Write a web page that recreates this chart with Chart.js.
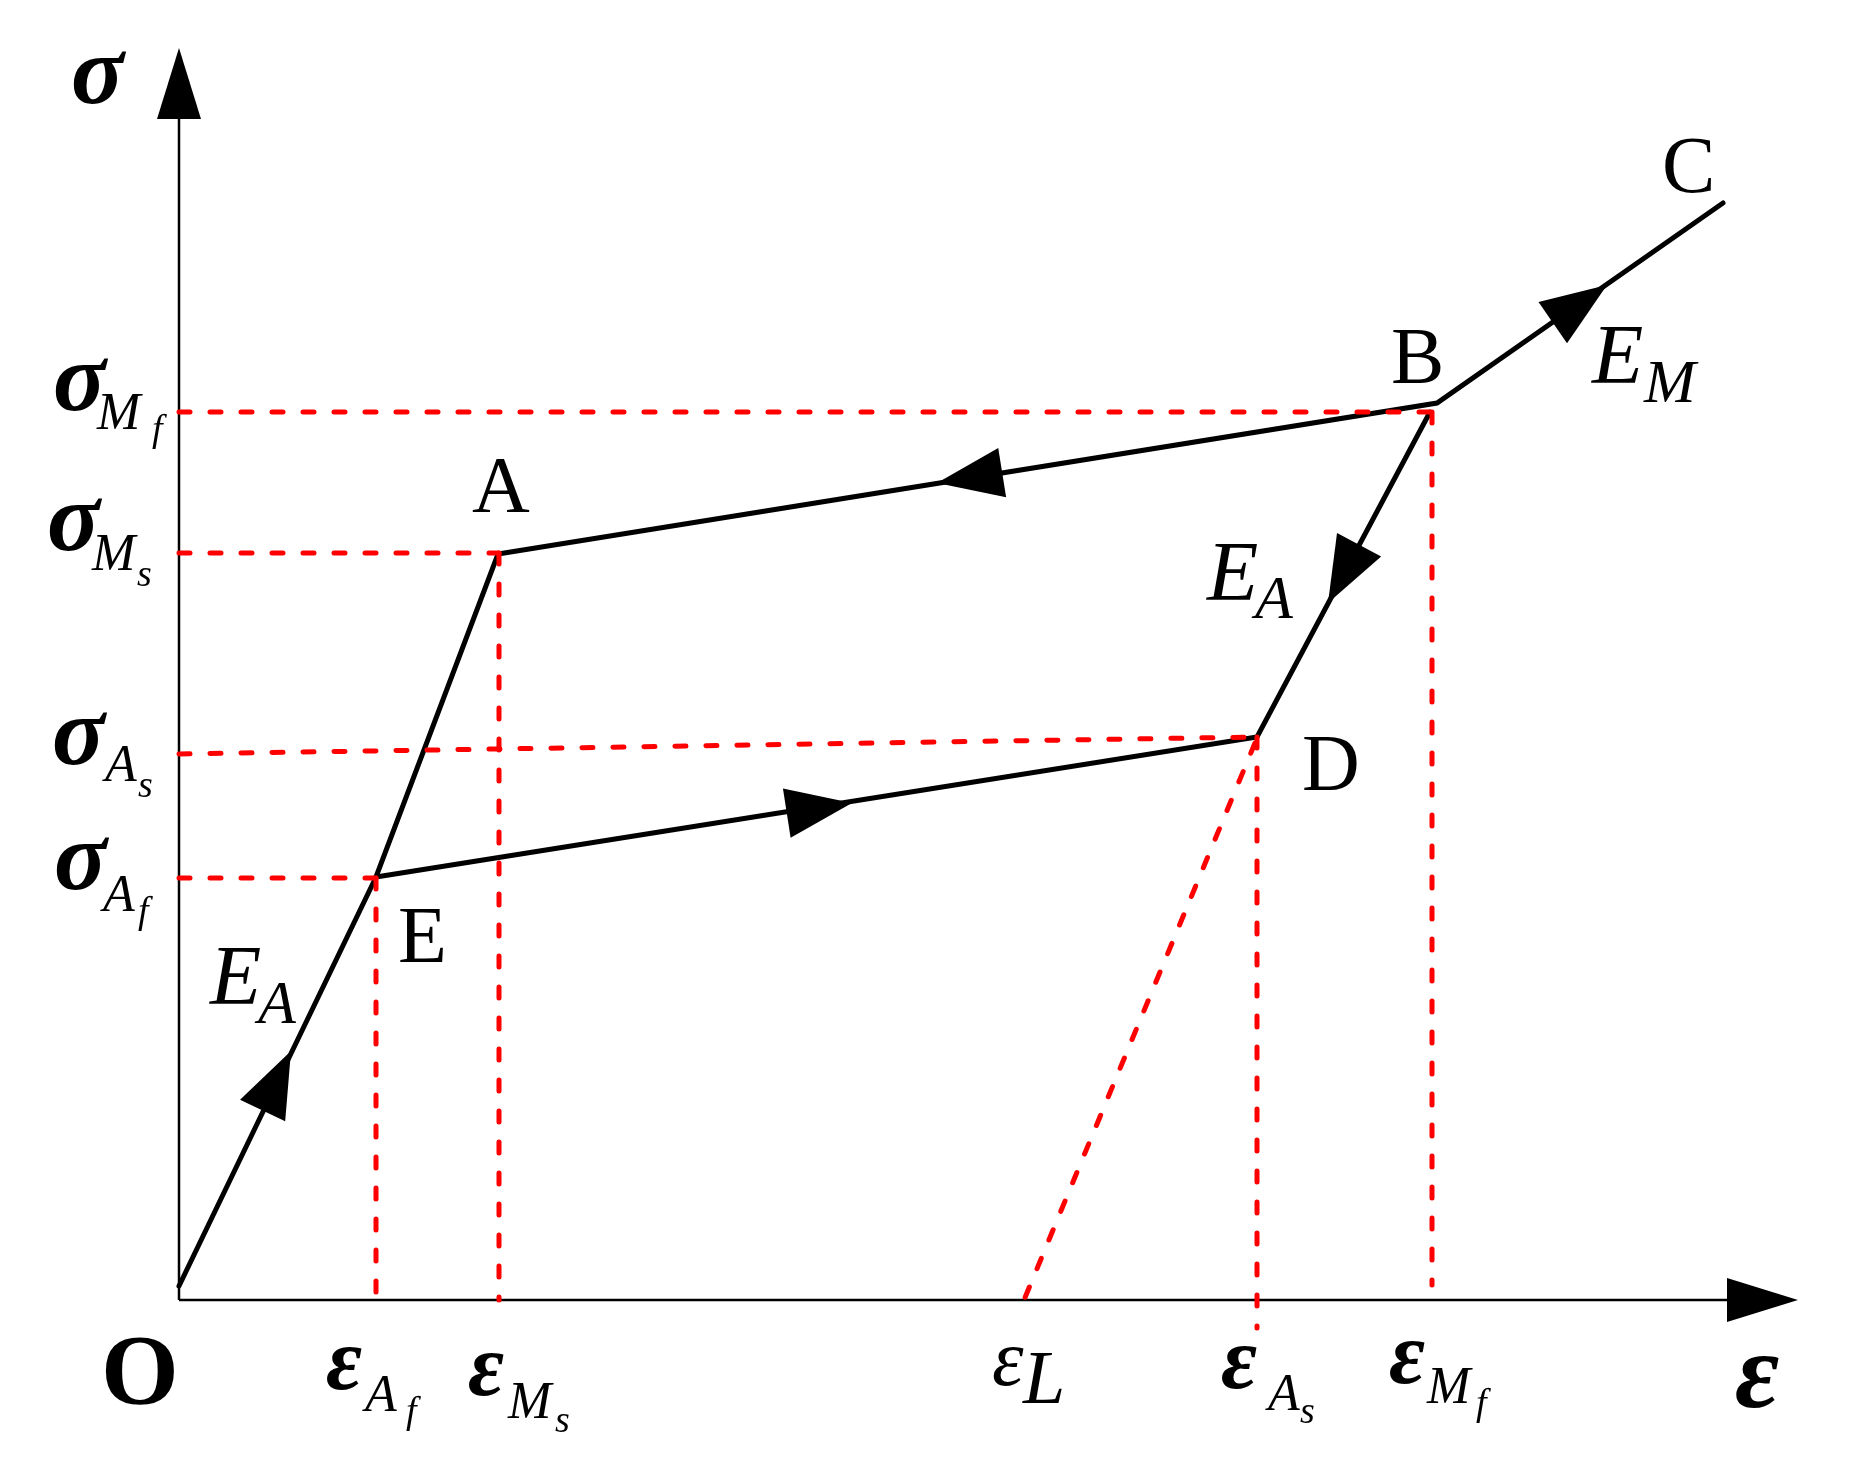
<!DOCTYPE html>
<html><head><meta charset="utf-8">
<script src="https://cdn.jsdelivr.net/npm/chart.js@4/dist/chart.umd.min.js"></script>
<style>html,body{margin:0;padding:0;background:#fff;overflow:hidden}</style>
</head><body>
<canvas id="c" width="1851" height="1462"></canvas>
<script>
// Schematic SMA stress–strain loop (arbitrary units: strain ε on x, stress σ on y)
// Main path O → E → A → B → C
const mainStrain = [0, 19.7, 31.9, 125.8, 154.4];
const mainStress = [1.4, 42.3, 74.6, 89.7, 109.7];
// Unloading path B → D → E
const unloadStrain = [125.1, 107.8, 19.7];
const unloadStress = [88.8, 56.3, 42.3];
// Characteristic stress levels
const sigmaMf = 88.8, sigmaMs = 74.7, sigmaAsLeft = 54.6, sigmaAsRight = 56.3, sigmaAf = 42.2;
// Characteristic strains
const epsAf = 19.7, epsMs = 32.0, epsL = 84.5, epsAs = 107.8, epsMf = 125.3;
// Axis extents
const strainMax = 161.9, stressMax = 125.2;
// Direction arrows: tip point and a point behind it on the same segment
const arrowTipX = [11.2, 75.8, 142.8, 114.9, 67.3];
const arrowTipY = [24.9, 81.7, 101.5, 69.7, 49.7];
const arrowFromX = [0, 125.8, 125.8, 125.1, 19.7];
const arrowFromY = [1.4, 89.7, 89.7, 88.8, 42.3];

function seg(x1,y1,x2,y2){return [{x:x1,y:y1},{x:x2,y:y2}];}
const red = '#ff0000';
const dashStyle = {borderColor:red,borderWidth:5,borderDash:[11,20],borderCapStyle:'round',showLine:true,pointRadius:0,clip:false,order:0,fill:false};
const dashed = [
  seg(0,sigmaMf,epsMf,sigmaMf),
  seg(0,sigmaMs,epsMs,sigmaMs),
  seg(0,sigmaAsLeft,epsAs,sigmaAsRight),
  seg(0,sigmaAf,epsAf,sigmaAf),
  seg(epsAf,sigmaAf,epsAf,0),
  seg(epsMs,sigmaMs,epsMs,0),
  seg(epsAs,sigmaAsRight,epsAs,-2.8),
  seg(epsMf,sigmaMf,epsMf,1.5),
  seg(epsAs-0.2,sigmaAsRight-0.6,epsL,0)
].map(d=>Object.assign({data:d},dashStyle));

const blackStyle = {borderColor:'#000',borderWidth:5,showLine:true,pointRadius:0,clip:false,order:1,fill:false,borderJoinStyle:'miter',borderCapStyle:'round'};
const mainData = mainStrain.map((x,i)=>({x, y:mainStress[i]}));
const unloadData = unloadStrain.map((x,i)=>({x, y:unloadStress[i]}));
const axisStyle = {borderColor:'#000',borderWidth:2.5,showLine:true,pointRadius:0,clip:false,order:2,fill:false,borderCapStyle:'butt'};

// Label layout (axis units): [text parts] each {t, font, x, y}
const F = '"Liberation Serif", "Times New Roman", serif';
const sig = 'italic bold 98px '+F, epsF = 'italic bold 88px '+F, sub1 = 'italic 52px '+F, sub2 = 'italic 38px '+F;
const letter = '80px '+F, eF = 'italic 84px '+F, eSub = 'italic 62px '+F;
const labels = [
  [['σ',sig,-10.8,119.7]],
  [['σ',sig,-12.6,89.0],['M',sub1,-8.2,87.1],['f',sub2,-2.7,85.9]],
  [['σ',sig,-13.2,75.0],['M',sub1,-8.7,73.0],['s',sub2,-4.2,71.4]],
  [['σ',sig,-12.7,53.6],['A',sub1,-7.4,51.9],['s',sub2,-4.1,50.3]],
  [['σ',sig,-12.5,41.1],['A',sub1,-7.6,38.9],['f',sub2,-4.1,37.7]],
  [['O','bold 100px '+F,-7.8,-10.3]],
  [['ε',epsF,14.7,-8.9],['A',sub1,18.6,-11.1],['f',sub2,22.7,-12.3]],
  [['ε',epsF,28.9,-9.5],['M',sub1,32.9,-11.8],['s',sub2,37.6,-13.2]],
  [['ε','italic 80px '+F,81.3,-8.5],['L','italic 76px '+F,84.4,-10.3]],
  [['ε',epsF,104.2,-8.8],['A',sub1,108.9,-11.0],['s',sub2,112.1,-12.3]],
  [['ε',epsF,121.0,-8.3],['M',sub1,124.8,-10.3],['f',sub2,129.7,-11.5]],
  [['ε','italic bold 108px '+F,155.6,-10.7]],
  [['A',letter,29.3,78.8]],
  [['B',letter,121.2,91.7]],
  [['C',letter,148.3,110.8]],
  [['D',letter,112.3,51.0]],
  [['E',letter,21.9,33.8]],
  [['E',eF,3.1,29.6],['A',eSub,7.9,27.7]],
  [['E',eF,102.8,70.0],['A',eSub,107.6,68.2]],
  [['E',eF,141.3,91.7],['M',eSub,146.5,89.8]]
];

function tri(ctx, tx, ty, fx, fy, len, wid){
  const dx = tx-fx, dy = ty-fy, L = Math.hypot(dx,dy), ux = dx/L, uy = dy/L;
  const bx = tx-ux*len, by = ty-uy*len, px = -uy, py = ux;
  ctx.beginPath();
  ctx.moveTo(tx,ty);
  ctx.lineTo(bx+px*wid/2, by+py*wid/2);
  ctx.lineTo(bx-px*wid/2, by-py*wid/2);
  ctx.closePath();
  ctx.fill();
}

const overlay = {
  id:'overlay',
  afterDatasetsDraw(chart){
    const ctx = chart.ctx, xs = chart.scales.x, ys = chart.scales.y;
    ctx.save();
    ctx.fillStyle = '#000';
    // axis arrowheads
    tri(ctx, xs.getPixelForValue(0), ys.getPixelForValue(stressMax), xs.getPixelForValue(0), ys.getPixelForValue(0), 71, 44);
    tri(ctx, xs.getPixelForValue(strainMax), ys.getPixelForValue(0), xs.getPixelForValue(0), ys.getPixelForValue(0), 71, 44);
    // path direction arrows
    for(let i=0;i<arrowTipX.length;i++){
      tri(ctx, xs.getPixelForValue(arrowTipX[i]), ys.getPixelForValue(arrowTipY[i]),
          xs.getPixelForValue(arrowFromX[i]), ys.getPixelForValue(arrowFromY[i]), 66, 50);
    }
    ctx.textAlign='left'; ctx.textBaseline='alphabetic';
    for(const lab of labels){
      for(const [t,f,x,y] of lab){
        ctx.font = f;
        ctx.fillText(t, xs.getPixelForValue(x), ys.getPixelForValue(y));
      }
    }
    ctx.restore();
  }
};

new Chart(document.getElementById('c'), {
  type:'scatter',
  data:{datasets:[
    ...dashed,
    Object.assign({data:mainData}, blackStyle),
    Object.assign({data:unloadData}, blackStyle),
    Object.assign({data:seg(0,0,0,stressMax-6)}, axisStyle),
    Object.assign({data:seg(0,0,strainMax-6,0)}, axisStyle)
  ]},
  options:{
    responsive:false, animation:false, devicePixelRatio:1,
    layout:{padding:{left:179,right:53,top:48,bottom:162}},
    plugins:{legend:{display:false},tooltip:{enabled:false}},
    scales:{
      x:{type:'linear',min:0,max:strainMax,display:false},
      y:{type:'linear',min:0,max:stressMax,display:false}
    }
  },
  plugins:[overlay]
});
</script>
</body></html>
